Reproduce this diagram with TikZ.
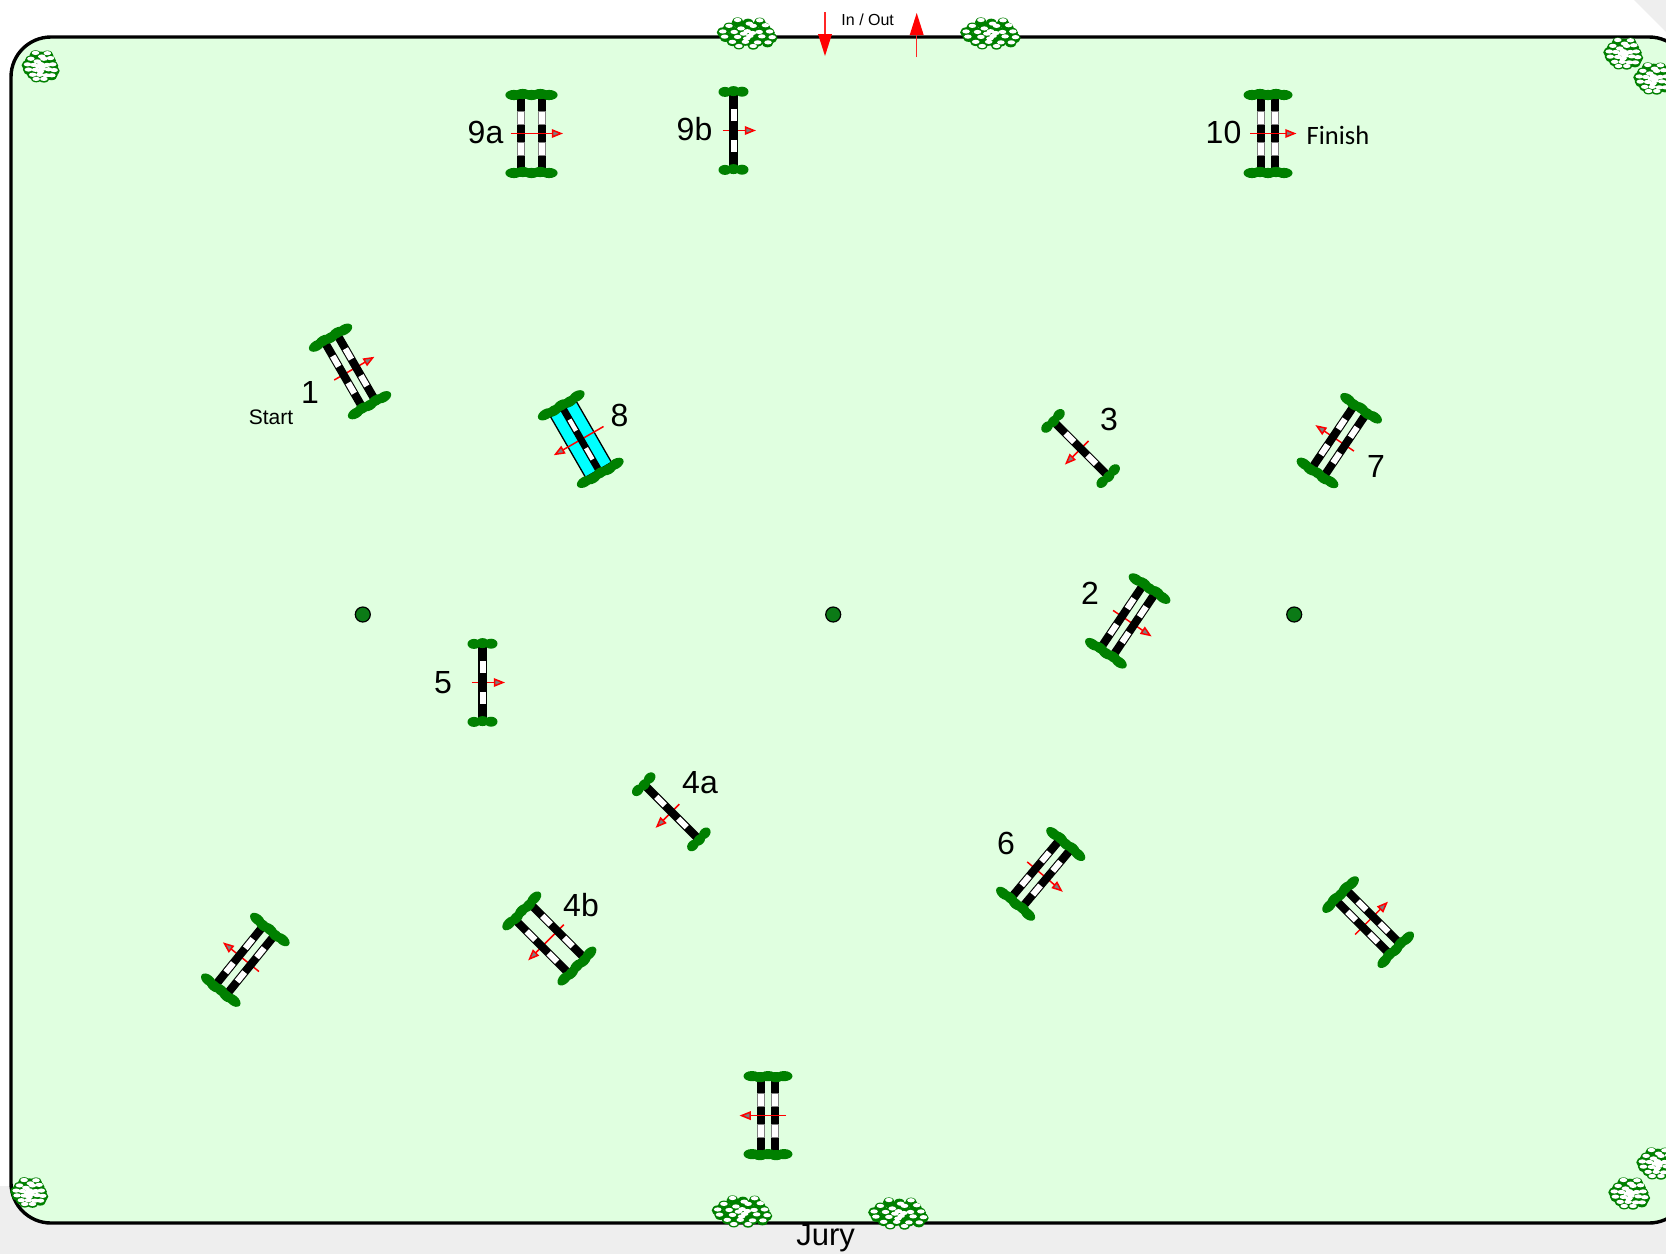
\documentclass[tikz,border=0pt]{standalone}
\usepackage{fontspec}
\setmainfont{Liberation Sans}
\newfontfamily\carl{Carlito}
\definecolor{arena}{HTML}{E0FFE0}
\definecolor{pagegrey}{HTML}{EEEEEE}
\definecolor{wing}{HTML}{008000}
\definecolor{dotgreen}{HTML}{0B7A16}
\definecolor{headgrey}{HTML}{7F7F7F}
\definecolor{polecyan}{HTML}{00FFFF}
\tikzset{
  wingblob/.style={fill=wing,draw=none},
  polebar/.style={fill=black,draw=none},
  poleedge/.style={fill=gray,draw=none},
  polegap/.style={fill=white,draw=none},
  dirline/.style={draw=red,line width=1.5pt},
  dirhead/.style={draw=red,fill=headgrey,line width=1.5pt,line join=miter},
  mainarrow/.style={fill=red,draw=none},
  mainstem/.style={draw=red!85!white,line width=1.3pt},
  label/.style={inner sep=0pt,font=\fontsize{32}{36}\selectfont},
  small/.style={inner sep=0pt,font=\fontsize{21}{24}\selectfont},
  marker/.style={circle,fill=dotgreen,draw=black,line width=1.2pt,minimum size=15pt,inner sep=0pt},
}
% a pole at local x = #1
\newcommand{\poleat}[1]{%
  \fill[polebar] ({#1-4.1},-35.5) rectangle ({#1+4.1},35.5);
  \foreach \s in {-1,1}{
    \fill[polegap] ({#1-3},{\s*9.5}) rectangle ({#1+3},{\s*21.5});
  }
}
\newcommand{\straightpoleat}[1]{%
  \fill[polebar] ({#1-4.1},-35.5) rectangle ({#1+4.1},35.5);
  \foreach \s in {-1,1}{
    \fill[poleedge] ({#1-4.1},{\s*8.7}) rectangle ({#1+4.1},{\s*22.3});
    \fill[polegap] ({#1-3.1},{\s*9.8}) rectangle ({#1+3.1},{\s*21.2});
  }
}
% wide wing: five blobs spaced #1
\newcommand{\widewing}[1]{%
  \foreach \s in {-1,1}{
    \foreach \w/\d in {-2/0.5,-1/-0.5,0/0.5,1/-0.5,2/0.5}{
      \fill[wingblob] ({\w*#1},{\s*39+\d}) ellipse [x radius=8.5pt,y radius=5.1pt];
    }
  }
}
\newcommand{\smallwing}{%
  \foreach \s in {-1,1}{
    \foreach \w/\d in {-1/0.4,0/-0.4,1/0.2}{
      \fill[wingblob] ({\w*8.5},{\s*39+\d}) ellipse [x radius=6.5pt,y radius=5pt];
    }
  }
}
% direction arrow from local x #1 to tip #2
\newcommand{\dirarrow}[2]{%
  \draw[dirline] (#1,0) -- ({#2-9},0);
  \draw[dirhead] ({#2-10},-3.4) -- ({#2-1.6},0) -- ({#2-10},3.4) -- cycle;
}
% rotated oxer: arrow under the poles; #4 half spacing, #5 wing step, #6 #7 arrow
\newcommand{\oxerback}[7]{%
  \begin{scope}[shift={(#1,#2)},rotate=#3]
    \dirarrow{#6}{#7}
    \poleat{-#4}\poleat{#4}
    \widewing{#5}
  \end{scope}}
% upright oxer: arrow over the poles
\newcommand{\oxerfront}[7]{%
  \begin{scope}[shift={(#1,#2)},rotate=#3]
    \straightpoleat{-#4}\straightpoleat{#4}
    \widewing{#5}
    \dirarrow{#6}{#7}
  \end{scope}}
\newcommand{\vertical}[3]{%
  \begin{scope}[shift={(#1,#2)},rotate=#3]
    \dirarrow{-11}{22}
    \poleat{0}
    \smallwing
  \end{scope}}
\newcommand{\waterjump}[3]{%
  \begin{scope}[shift={(#1,#2)},rotate=#3]
    \draw[fill=polecyan,draw=black,line width=1.3pt] (-15,-35) rectangle (15,35);
    \dirarrow{-26}{31}
    \fill[polebar] (-3.5,-36) rectangle (3.5,36);
    \fill[white] (-2.2,-23) rectangle (2.2,-10);
    \fill[white] (-2.2,10) rectangle (2.2,23);
    \widewing{9}
  \end{scope}}
% flower bush
\newcommand{\bush}[4]{%
  \begin{scope}[shift={(#1,#2)}]
    \foreach \u/\v in {-0.35/-0.82,0.05/-0.72,0.5/-0.8,-0.68/-0.42,-0.22/-0.38,0.22/-0.45,0.68/-0.42,
      -0.92/-0.05,-0.45/-0.02,0.0/-0.1,0.45/0.0,0.85/-0.02,-0.82/0.3,-0.32/0.32,0.12/0.25,0.55/0.3,0.95/0.38,
      -0.55/0.62,-0.05/0.6,0.42/0.65,0.8/0.72,-0.3/0.88,0.25/0.9}{
      \fill[wing] ({\u*#3},{\v*#4}) ellipse [x radius=6pt,y radius=5pt];
    }
    \foreach \u/\v in {-0.35/-1.0,0.1/-0.72,0.5/-0.98,-0.68/-0.55,-0.22/-0.35,0.25/-0.55,0.72/-0.6,
      -0.92/-0.12,-0.48/-0.08,0.02/-0.14,0.48/-0.08,0.88/-0.12,-0.85/0.28,-0.35/0.3,0.12/0.22,0.58/0.26,0.98/0.32,
      -0.55/0.68,-0.05/0.68,0.42/0.72,0.82/0.72,-0.3/1.0,0.25/1.0,-0.12/0.05,0.22/0.0,0.0/0.42}{
      \fill[white] ({\u*#3},{\v*#4}) ellipse [x radius=3.8pt,y radius=2.1pt];
    }
  \end{scope}}
\begin{document}
\begin{tikzpicture}[x=1pt,y=-1pt]
\useasboundingbox (0,0) rectangle (1666,1254);
\clip (0,0) rectangle (1666,1254);
\fill[white] (0,0) rectangle (1666,1254);
\fill[pagegrey] (0,1186) rectangle (1666,1254);
\fill[pagegrey] (1634,0) -- (1666,32) -- (1666,0) -- cycle;
\draw[fill=arena,draw=black,line width=3.4pt,rounded corners=40pt] (11,37) rectangle (1689,1223);

% bushes
\bush{746.7}{33}{26}{13}
\bush{990}{33}{26}{13}
\bush{741.6}{1211}{26}{13}
\bush{898}{1213}{26}{13}
\bush{40.4}{65.9}{14}{13}
\bush{1623}{53}{15}{13}
\bush{1653}{78}{15}{13}
\bush{29}{1192}{14}{12}
\bush{1629}{1193}{16}{13}
\bush{1657}{1163}{16}{13}

% in / out arrows
\draw[mainstem] (825,12) -- (825,36);
\fill[mainarrow] (818,34) -- (832,34) -- (825,56) -- cycle;
\draw[mainstem] (916.7,57) -- (916.7,33);
\fill[mainarrow] (909.7,35) -- (923.7,35) -- (916.7,13) -- cycle;

% jumps
\oxerfront{531.5}{133.5}{0}{10.5}{8.8}{-21}{31}
\vertical{733.5}{130.5}{0}
\oxerfront{1268}{133.5}{0}{7}{8}{-18}{28}
\oxerback{349.8}{371}{30}{7.3}{8}{-18}{28}
\waterjump{581}{439.5}{210}
\vertical{1080.8}{448.7}{225}
\oxerback{1339}{441}{146}{7.3}{8}{-18}{28}
\oxerback{1128}{620.5}{-34}{7.3}{8}{-18}{28}
\vertical{482.5}{682.5}{0}
\vertical{671.5}{812}{225}
\oxerback{549.7}{938.8}{225}{11}{8.8}{-20}{30}
\oxerback{1041}{873.5}{-40}{7.3}{8}{-18}{28}
\oxerback{245}{960.2}{141}{7.3}{8}{-18}{28}
\oxerback{1367.8}{921.8}{45}{7.3}{8}{-18}{28}
\oxerfront{768}{1115.6}{180}{7}{8}{-18}{28}

% markers
\node[marker] (m1) at (362.8,614.5) {};
\node[marker] (m2) at (833.2,614.5) {};
\node[marker] (m3) at (1294.2,614.5) {};

% labels
\node[label] (l9a) at (485.5,132) {9a};
\node[label] (l9b) at (694.5,129) {9b};
\node[label] (l10) at (1223.5,132.5) {10};
\node[inner sep=0pt,font=\carl\fontsize{26.5}{30}\selectfont] (lfin) at (1338,135) {Finish};
\node[label] (l1) at (310,392.5) {1};
\node[small] (lstart) at (271,417) {Start};
\node[label] (l8) at (619.4,415.5) {8};
\node[label] (l3) at (1109,419.5) {3};
\node[label] (l7) at (1376,466.4) {7};
\node[label] (l2) at (1090,593) {2};
\node[label] (l5) at (443,682.5) {5};
\node[label] (l4a) at (700,782.5) {4a};
\node[label] (l4b) at (581,905) {4b};
\node[label] (l6) at (1006,843.6) {6};
\node[inner sep=0pt,font=\fontsize{16}{19}\selectfont] (lio) at (867.7,20) {In / Out};
\node[inner sep=0pt,font=\fontsize{31}{35}\selectfont] (ljury) at (825.6,1238.5) {Jury};
\end{tikzpicture}
\end{document}
